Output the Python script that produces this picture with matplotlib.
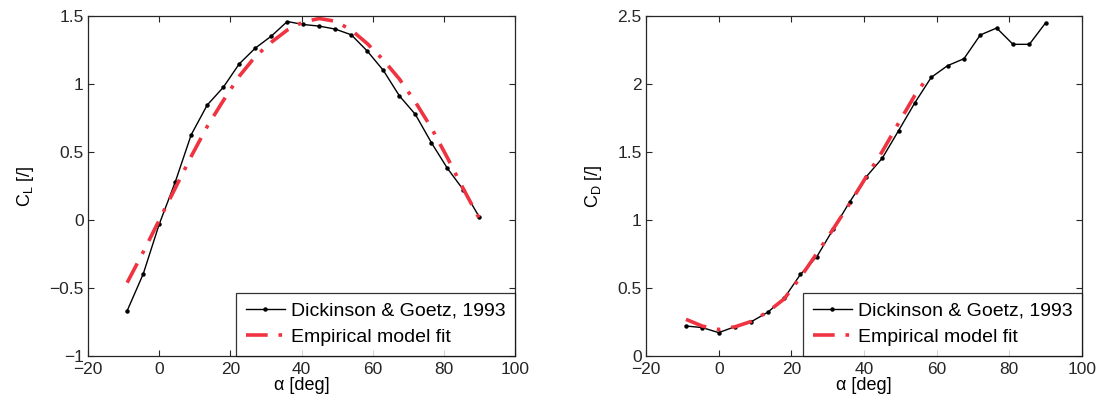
import matplotlib
matplotlib.use("Agg")
import matplotlib.pyplot as plt

plt.rcParams['font.family'] = ['Liberation Sans', 'DejaVu Sans']
plt.rcParams['mathtext.fontset'] = 'custom'
plt.rcParams['mathtext.rm'] = 'Liberation Sans'

# Measured data (Dickinson & Goetz, 1993)
alpha_meas = [-9, -4.5, 0, 4.5, 9, 13.5, 18, 22.5, 27, 31.5, 36, 40.5, 45,
              49.5, 54, 58.5, 63, 67.5, 72, 76.5, 81, 85.5, 90]
cl_meas = [-0.667, -0.397, -0.03, 0.28, 0.629, 0.848, 0.978, 1.151, 1.267,
           1.355, 1.463, 1.441, 1.429, 1.407, 1.365, 1.245, 1.103, 0.916,
           0.779, 0.571, 0.382, 0.223, 0.022]
cd_meas = [0.221, 0.209, 0.172, 0.216, 0.253, 0.322, 0.425, 0.601, 0.731,
           0.933, 1.132, 1.316, 1.456, 1.659, 1.865, 2.052, 2.138, 2.189,
           2.364, 2.415, 2.295, 2.295, 2.454]

# Empirical model fit
alpha_fit_cl = [-9, -4.5, 0, 4.5, 9, 13.5, 18, 22.5, 27, 31.5, 36, 40.5, 45,
                49.5, 54, 58.5, 63, 67.5, 72, 76.5, 81, 85.5, 90]
cl_fit = [-0.46, -0.235, 0.0, 0.235, 0.47, 0.69, 0.88, 1.06, 1.205, 1.31,
          1.40, 1.46, 1.485, 1.465, 1.40, 1.30, 1.18, 1.04, 0.87, 0.68, 0.46,
          0.23, 0.01]
alpha_fit_cd = [-9, -4.5, 0, 4.5, 9, 13.5, 18, 22.5, 27, 31.5, 36, 40.5, 45,
                49.5, 54, 58]
cd_fit = [0.27, 0.22, 0.195, 0.215, 0.255, 0.325, 0.42, 0.58, 0.755, 0.935,
          1.12, 1.315, 1.505, 1.715, 1.92, 2.07]

xticks = [-20, 0, 20, 40, 60, 80, 100]
cl_ticks = [-1, -0.5, 0, 0.5, 1, 1.5]
cl_ticklabels = ['\u22121', '\u22120.5', '0', '0.5', '1', '1.5']
cd_ticks = [0, 0.5, 1, 1.5, 2, 2.5]
cd_ticklabels = ['0', '0.5', '1', '1.5', '2', '2.5']
xticklabels = ['\u221220', '0', '20', '40', '60', '80', '100']

red = '#ef3340'
fig = plt.figure(figsize=(11.03, 4.05), dpi=100)
ax1 = fig.add_axes([0.0798, 0.121, 0.3871, 0.8383])
ax2 = fig.add_axes([0.5857, 0.121, 0.3953, 0.8383])

def style(ax):
    ax.tick_params(direction='in', top=True, right=True, length=4,
                   width=0.8, labelsize=12.5, pad=3, colors='#262626')
    ax.tick_params(axis='x', pad=4)
    for s in ax.spines.values():
        s.set_linewidth(0.9)
        s.set_color('#262626')

for ax, y_meas, a_fit, y_fit, ticks, tlabels, lim, lab in [
        (ax1, cl_meas, alpha_fit_cl, cl_fit, cl_ticks, cl_ticklabels, (-1, 1.5), r'C$_\mathregular{L}$ [/]'),
        (ax2, cd_meas, alpha_fit_cd, cd_fit, cd_ticks, cd_ticklabels, (0, 2.5), r'C$_\mathregular{D}$ [/]')]:
    ax.plot(alpha_meas, y_meas, '-', color='black', lw=1.0, marker='o',
            ms=2.2, label='Dickinson & Goetz, 1993')
    ax.plot(a_fit, y_fit, color=red, lw=2.6, ls=(0, (6, 3, 1, 3)),
            label='Empirical model fit')
    ax.set_xlim(-20, 100)
    ax.set_ylim(*lim)
    ax.set_xticks(xticks)
    ax.set_xticklabels(xticklabels)
    ax.set_yticks(ticks)
    ax.set_yticklabels(tlabels)
    style(ax)
    ax.set_xlabel('\u03b1 [deg]', fontsize=13, labelpad=0)
    ax.set_ylabel(lab, fontsize=13, labelpad=10)
    leg = ax.legend(loc='lower right', borderaxespad=0, fontsize=14,
                    frameon=True, fancybox=False, handlelength=2.0,
                    handletextpad=0.3, borderpad=0.5, labelspacing=0.45)
    leg.get_frame().set_edgecolor('black')
    leg.get_frame().set_linewidth(0.9)

fig.savefig('out.png', dpi=100)
